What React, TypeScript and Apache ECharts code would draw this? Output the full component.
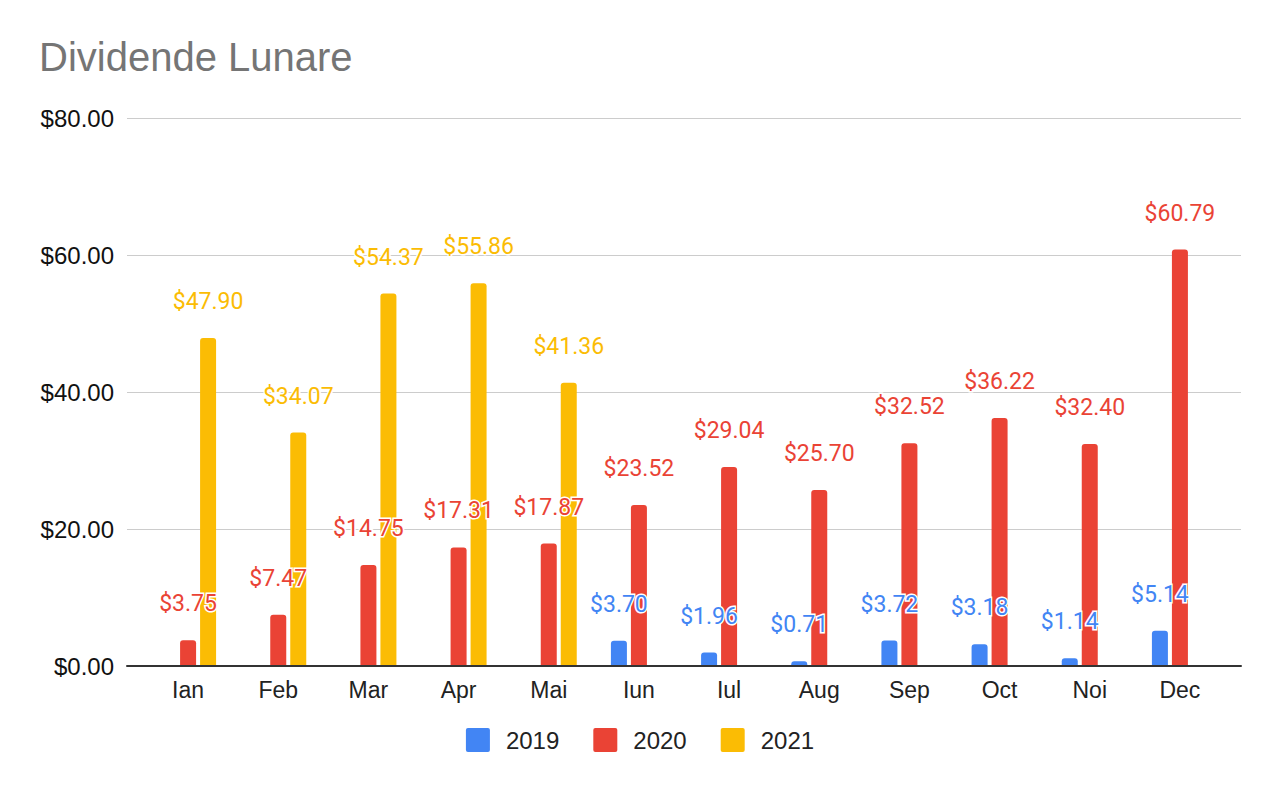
import React, { useEffect, useRef } from "react";
import * as echarts from "echarts";

const months = ["Ian", "Feb", "Mar", "Apr", "Mai", "Iun", "Iul", "Aug", "Sep", "Oct", "Noi", "Dec"];
const s2019: (number | null)[] = [null, null, null, null, null, 3.7, 1.96, 0.71, 3.72, 3.18, 1.14, 5.14];
const s2020: (number | null)[] = [3.75, 7.47, 14.75, 17.31, 17.87, 23.52, 29.04, 25.7, 32.52, 36.22, 32.4, 60.79];
const s2021: (number | null)[] = [47.9, 34.07, 54.37, 55.86, 41.36, null, null, null, null, null, null, null];
const seriesNames = ["2019", "2020", "2021"];
const colors = ["#4285F4", "#EA4335", "#FBBC04"];
const yMin = 0;
const yMax = 80;
const yStep = 20;

const money = (v: number) => "$" + v.toFixed(2);

export default function App() {
  const ref = useRef<HTMLDivElement>(null);
  useEffect(() => {
    if (!ref.current) return;
    const chart = echarts.init(ref.current, null, { renderer: "svg" });
    const data = [s2019, s2020, s2021];
    const axisFont = "'Liberation Sans', Arial, sans-serif";
    chart.setOption({
      animation: false,
      backgroundColor: "#ffffff",
      title: {
        text: "Dividende Lunare",
        left: 34,
        top: 32,
        textStyle: { fontFamily: axisFont, fontSize: 40, fontWeight: "normal", color: "#757575" },
      },
      legend: {
        top: 723,
        left: "center",
        itemWidth: 24,
        itemHeight: 24,
        itemGap: 34,
        icon: "path://M2,0 H22 Q24,0 24,2 V22 Q24,24 22,24 H2 Q0,24 0,22 V2 Q0,0 2,0 Z",
        data: seriesNames,
        textStyle: { fontFamily: axisFont, fontSize: 24, color: "#222222", padding: [0, 0, 0, 11] },
      },
      grid: [
        { left: 127, right: 39, top: 118, bottom: 126 },
        { left: 143, right: 55, top: 118, bottom: 126 },
      ],
      xAxis: [
        {
          type: "value",
          gridIndex: 0,
          min: 0,
          max: 1,
          axisLine: { show: true, onZero: false, lineStyle: { color: "#333333", width: 2 } },
          axisTick: { show: false },
          axisLabel: { show: false },
          splitLine: { show: false },
          z: 5,
        },
        {
          type: "category",
          gridIndex: 1,
          data: months,
          axisLine: { show: false },
          axisTick: { show: false },
          axisLabel: { fontFamily: axisFont, fontSize: 23, color: "#222222", margin: 12 },
        },
      ],
      yAxis: [
        {
          type: "value",
          gridIndex: 0,
          min: yMin,
          max: yMax,
          interval: yStep,
          axisLine: { show: false },
          axisTick: { show: false },
          axisLabel: { fontFamily: axisFont, fontSize: 24, color: "#111111", margin: 13, formatter: (v: number) => money(v) },
          splitLine: { lineStyle: { color: "#cccccc", width: 1 } },
        },
        {
          type: "value",
          gridIndex: 1,
          min: yMin,
          max: yMax,
          interval: yStep,
          show: false,
          splitLine: { show: false },
        },
      ],
      series: seriesNames.map((name, i) => ({
        name,
        type: "bar",
        xAxisIndex: 1,
        yAxisIndex: 1,
        data: data[i],
        barWidth: 16,
        barGap: "25%",
        itemStyle: { color: colors[i], borderRadius: [3, 3, 0, 0] },
        label: {
          show: true,
          position: "top",
          distance: 25,
          fontFamily: "Roboto, sans-serif",
          fontSize: 23,
          color: colors[i],
          textBorderColor: "#ffffff",
          textBorderWidth: 3,
          formatter: (p: any) => money(p.value),
        },
      })),
    });
    return () => chart.dispose();
  }, []);
  return <div ref={ref} style={{ position: "fixed", left: 0, top: 0, width: 1280, height: 792 }} />;
}
